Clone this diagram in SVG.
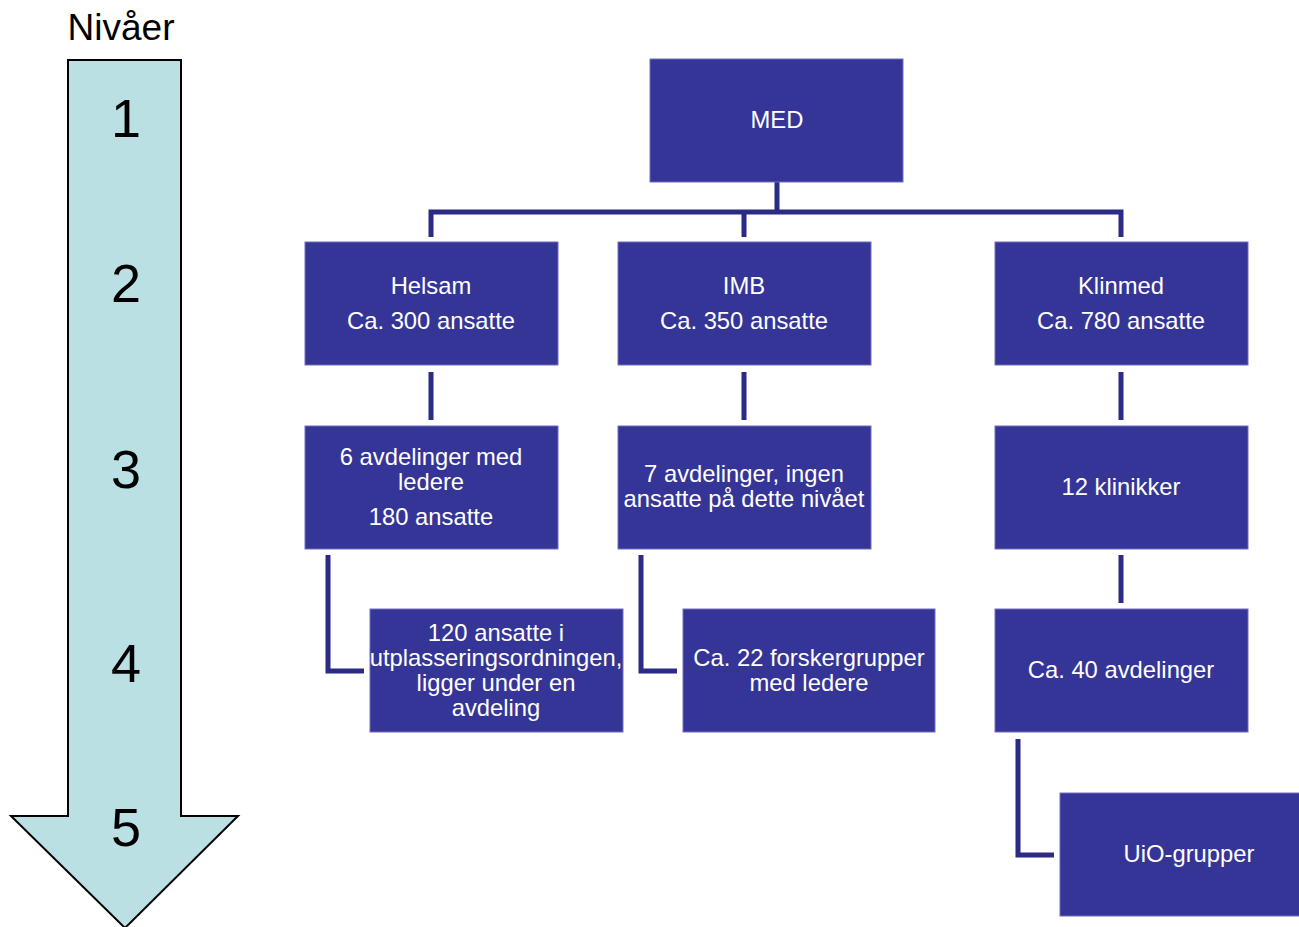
<svg xmlns="http://www.w3.org/2000/svg" width="1299" height="927" viewBox="0 0 1299 927">
<style>
.box{fill:#353597;stroke:#6f6fbf;stroke-width:1}
.t{font-family:"Liberation Sans",Arial,sans-serif;font-size:23.8px;fill:#ffffff;text-anchor:middle}
.n{font-family:"Liberation Sans",Arial,sans-serif;font-size:54px;fill:#000;text-anchor:middle}
.c{fill:none;stroke:#2b2b85;stroke-width:5;stroke-linejoin:miter}
</style>
<rect width="1299" height="927" fill="#ffffff"/>
<g id="levels">
<path d="M68,60 H181 V816 H238 L125,928 L11,816 H68 Z" fill="#bae0e3" stroke="#000" stroke-width="2"/>
<text x="121" y="40" font-family="Liberation Sans,Arial,sans-serif" font-size="37" text-anchor="middle">Nivåer</text>
<text class="n" x="126" y="137">1</text>
<text class="n" x="126" y="302">2</text>
<text class="n" x="126" y="488">3</text>
<text class="n" x="126" y="682">4</text>
<text class="n" x="126" y="846">5</text>
</g>
<g id="connectors">
<path class="c" d="M777,182 V212 M431,237 V212 H1121 V237 M744,212 V237"/>
<path class="c" d="M431,372 V420 M744,372 V420 M1121,372 V420"/>
<path class="c" d="M328,555 V671 H364"/>
<path class="c" d="M641,555 V671 H677"/>
<path class="c" d="M1121,555 V603"/>
<path class="c" d="M1018,739 V855 H1054"/>
</g>
<g id="med"><rect class="box" x="650" y="59" width="253" height="123"/><text class="t" x="777" y="128">MED</text></g>
<g id="helsam"><rect class="box" x="305" y="242" width="253" height="123"/><text class="t" x="431" y="294">Helsam</text><text class="t" x="431" y="329">Ca. 300 ansatte</text></g>
<g id="imb"><rect class="box" x="618" y="242" width="253" height="123"/><text class="t" x="744" y="294">IMB</text><text class="t" x="744" y="329">Ca. 350 ansatte</text></g>
<g id="klinmed"><rect class="box" x="995" y="242" width="253" height="123"/><text class="t" x="1121" y="294">Klinmed</text><text class="t" x="1121" y="329">Ca. 780 ansatte</text></g>
<g id="helsam-avd"><rect class="box" x="305" y="426" width="253" height="123"/><text class="t" x="431" y="465">6 avdelinger med</text><text class="t" x="431" y="490">ledere</text><text class="t" x="431" y="525">180 ansatte</text></g>
<g id="imb-avd"><rect class="box" x="618" y="426" width="253" height="123"/><text class="t" x="744" y="482">7 avdelinger, ingen</text><text class="t" x="744" y="507">ansatte på dette nivået</text></g>
<g id="klinikker"><rect class="box" x="995" y="426" width="253" height="123"/><text class="t" x="1121" y="495">12 klinikker</text></g>
<g id="utplassering"><rect class="box" x="370" y="609" width="253" height="123"/><text class="t" x="496" y="641">120 ansatte i</text><text class="t" x="496" y="666">utplasseringsordningen,</text><text class="t" x="496" y="691">ligger under en</text><text class="t" x="496" y="716">avdeling</text></g>
<g id="forskergrupper"><rect class="box" x="683" y="609" width="252" height="123"/><text class="t" x="809" y="666">Ca. 22 forskergrupper</text><text class="t" x="809" y="691">med ledere</text></g>
<g id="klinmed-avd"><rect class="box" x="995" y="609" width="253" height="123"/><text class="t" x="1121" y="678">Ca. 40 avdelinger</text></g>
<g id="uio"><rect class="box" x="1060" y="793" width="245" height="123"/><text class="t" x="1189" y="862">UiO-grupper</text></g>
</svg>
